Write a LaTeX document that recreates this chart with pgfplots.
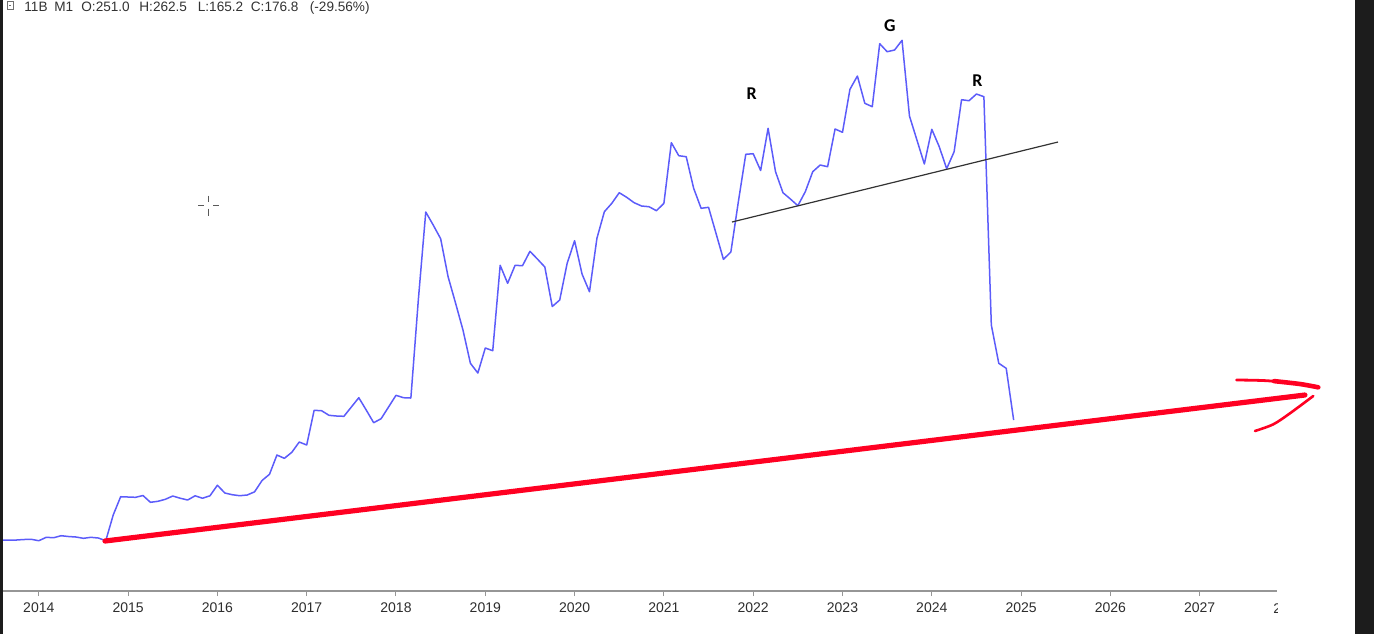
\documentclass[border=0pt]{standalone}
\usepackage{pgfplots}
\pgfplotsset{compat=1.18}
\usepackage{pgfplotstable}
\usepackage{fontspec}
\setmainfont{Liberation Sans}
\newfontfamily\carlito{Carlito}

\definecolor{lineblue}{RGB}{92,92,250}
\definecolor{penred}{RGB}{255,0,34}
\definecolor{frame}{RGB}{28,28,28}
\definecolor{axisgray}{RGB}{150,150,150}
\definecolor{labelgray}{RGB}{45,45,45}
\definecolor{headgray}{RGB}{50,50,50}

% monthly closes: m = months since Jan 2014, v = height above the time axis
\pgfplotstableread{
m v
-4.81 51
-4 51
-3 51
-2 51.5
-1 51.7
0 50.3
1 53.7
2 53.3
3 55.3
4 54.5
5 54
6 52.7
7 53.7
8 53
9 50.3
10 76
11 94.3
12 94
13 93.7
14 95.5
15 88.7
16 89.7
17 91.7
18 95
19 92.8
20 91
21 95.2
22 92.8
23 95.2
24 105.8
25 98
26 96.3
27 95.3
28 96
29 99.2
30 110.5
31 116.7
32 136
33 132.7
34 138.7
35 149
36 146
37 180.7
38 180.3
39 175.7
40 175
41 174.7
42 184
43 193.3
44 181
45 168.3
46 172.3
47 184
48 195.7
49 193.3
50 193
51 291
52 379
53 366
54 352.3
55 314.3
56 288
57 261
58 227.7
59 218
60 243
61 240.3
62 325.7
63 307.7
64 325.7
65 325.3
66 339.7
67 332
68 324
69 284.5
70 291
71 327.7
72 350.3
73 317
74 299.3
75 352.7
76 379.3
77 387.7
78 398.3
79 393.7
80 388.3
81 385
82 384.3
83 380.3
84 387.7
85 448.3
86 435.3
87 434.3
88 402.7
89 382.7
90 383.7
91 357.7
92 331.7
93 339
94 389
95 436.7
96 437.3
97 420.5
98 462.7
99 419.3
100 398.3
101 392
102 385.3
103 399.3
104 419.3
105 426
106 424.3
107 462
108 458.7
109 501.7
110 515
111 487.7
112 484.3
113 547.3
114 539.3
115 541
116 550.7
117 475
118 451
119 427
120 461.7
121 444.3
122 422.3
123 439.3
124 491.3
125 490.3
126 497
127 494.3
128 266
129 227.7
130 222.7
131 171
}\price

\begin{document}
\begin{tikzpicture}
\useasboundingbox (0,0) rectangle (687pt,-317pt);
\clip (0,0) rectangle (687pt,-317pt);

\begin{axis}[
  at={(1.5pt,-295.5pt)}, anchor=south west,
  scale only axis, width=637pt, height=295.5pt,
  xmin=-4.81, xmax=166.39, ymin=0, ymax=591,
  axis x line=bottom, axis y line=none,
  x axis line style={draw=axisgray, line width=0.6pt, -},
  xtick={0,12,24,36,48,60,72,84,96,108,120,132,144,156},
  xticklabels={2014,2015,2016,2017,2018,2019,2020,2021,2022,2023,2024,2025,2026,2027},
  ytick=\empty,
  tick align=outside,
  major tick length=2.5pt,
  every tick/.style={draw=axisgray, line width=0.5pt},
  xticklabel style={font=\fontsize{7}{8}\selectfont, text=labelgray},
  clip=false,
]
% price line
\addplot[lineblue, line width=0.75pt, line join=round] table[x=m, y=v] {\price};
% neckline
\addplot[black!80, line width=0.6pt] coordinates {(93.15,369) (136.96,449)};
% hand-drawn arrow
\addplot[penred, line width=2.6pt, line cap=round] coordinates {(8.90,50) (170.14,196)};
\addplot[penred, line width=1.4pt, line cap=round, smooth] coordinates {(160.96,211) (165.0,210.3) (169.47,207) (171.93,203.7)};
\addplot[penred, line width=2.3pt, line cap=round, smooth] coordinates {(166.0,209.9) (169.47,207) (171.93,203.7)};
\addplot[penred, line width=1.3pt, line cap=round, smooth] coordinates {(163.43,160) (165.89,166.7) (168.13,177.7) (171.26,195)};
% pattern labels
\node[font=\carlito\bfseries\fontsize{9}{10}\selectfont] at (axis cs:95.80,497) {R};
\node[font=\carlito\bfseries\fontsize{9}{10}\selectfont] at (axis cs:114.38,565) {G};
\node[font=\carlito\bfseries\fontsize{9}{10}\selectfont] at (axis cs:126.12,510.3) {R};
\end{axis}

\begin{scope}[x=0.5pt, y=-0.5pt]
% cut-off label of the next year
\node[font=\fontsize{7}{8}\selectfont, text=labelgray] at (1289,608.6) {2028};
\fill[white] (1278,596) rectangle (1355,634);
% header line
\begin{scope}[every node/.style={anchor=base west, inner sep=0pt, text=headgray, font=\fontsize{6.8}{8}\selectfont}]
\node at (24,11) {11B};
\node at (54,11) {M1};
\node at (81,11) {O:251.0};
\node at (139,11) {H:262.5};
\node at (197.5,11) {L:165.2};
\node at (250.5,11) {C:176.8};
\node at (309.5,11) {(-29.56\%)};
\end{scope}
\draw[headgray!70, line width=0.5pt] (7,1) -- (7,9) -- (13,9) -- (13,1) -- cycle;
\draw[headgray!70, line width=0.5pt] (9,5) -- (11,5);
% cursor cross
\draw[gray!70!black, line width=0.5pt] (198.3,205.5) -- (204,205.5) (213,205.5) -- (219,205.5)
  (208.3,195.5) -- (208.3,202) (208.3,208.5) -- (208.3,215.7);
% screen frame
\fill[frame] (0,0) rectangle (3,634);
\fill[frame] (1355,0) rectangle (1374,634);
\end{scope}
\end{tikzpicture}
\end{document}
